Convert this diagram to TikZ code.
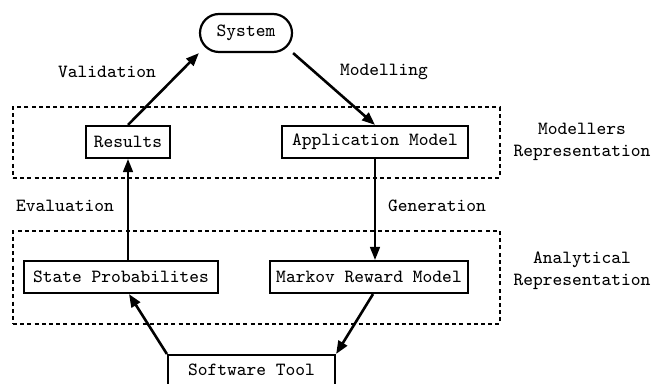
\documentclass[tikz,border=0pt]{standalone}
\usetikzlibrary{arrows.meta}
\begin{document}
\begin{tikzpicture}[x=0.5pt,y=-0.5pt,
  every node/.style={font=\ttfamily\fontsize{9.3pt}{11pt}\selectfont, inner sep=0pt},
  box/.style={draw, line width=1.1pt, minimum height=16pt},
  grp/.style={draw, line width=1pt, dash pattern=on 2pt off 1.6pt},
  thickarr/.style={line width=1.3pt, -{Triangle[length=6.5pt,width=5pt]}},
  thinarr/.style={line width=0.8pt, -{Triangle[length=6.5pt,width=5pt]}},
  lbl/.style={align=center}]
\useasboundingbox (0,0) rectangle (651,384);
\clip (0,0) rectangle (651,384);
% groups
\node[grp, minimum width=243.5pt, minimum height=35.5pt] (top) at (256.5,142.5) {};
\node[grp, minimum width=243.5pt, minimum height=46.5pt] (bot) at (256.5,277.5) {};
% nodes
\node[box, rounded corners=9.5pt, minimum width=46pt, minimum height=19pt] (sys) at (246,33) {System};
\node[box, minimum width=42pt] (res) at (128,142) {Results};
\node[box, minimum width=93pt] (app) at (375,142) {Application Model};
\node[box, minimum width=97pt] (sp) at (121,277) {State Probabilites};
\node[box, minimum width=99pt] (mrm) at (369,277) {Markov Reward Model};
\node[box, minimum width=83.5pt, minimum height=24pt, anchor=north] (sw) at (251.5,354) {};
\node at (251.5,370) (swt) {Software Tool};
% labels
\node[lbl] (l1) at (107,72) {Validation};
\node[lbl] (l2) at (384,72) {Modelling};
\node[lbl] (l3) at (65,206) {Evaluation};
\node[lbl] (l4) at (437,206) {Generation};
\node[lbl] (l5) at (582,142) {Modellers\\Representation};
\node[lbl] (l6) at (582,271) {Analytical\\Representation};
% connectors
\draw[thickarr] (res.north) -- (sys.south west);
\draw[thickarr] (sys.south east) -- (app.north);
\draw[thinarr] (app.south) -- (app.south |- mrm.north);
\draw[thinarr] (res.south |- sp.north) -- (res.south);
\draw[thickarr] (sw.north west) -- ([xshift=4pt]sp.south);
\draw[thickarr] ([xshift=2pt]mrm.south) -- (sw.north east);
\end{tikzpicture}
\end{document}
